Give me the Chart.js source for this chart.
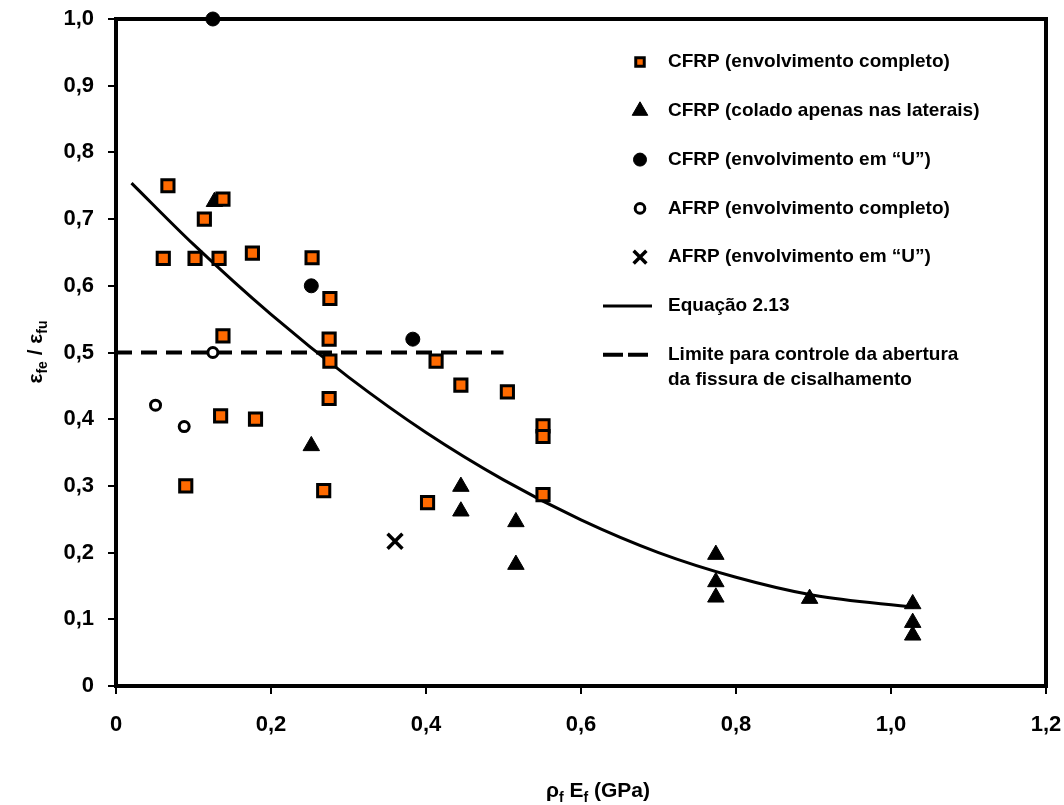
<!DOCTYPE html>
<html>
<head>
<meta charset="utf-8">
<script src="https://cdn.jsdelivr.net/npm/chart.js"></script>
<style>
  html, body { margin: 0; padding: 0; background: #fff; }
  #chart { display: block; }
</style>
</head>
<body>
<canvas id="chart" width="1064" height="805"></canvas>
<script>
const FONT = 'Arial, "Liberation Sans", sans-serif';

// CFRP (envolvimento completo)
const cfrpFullX = [0.067, 0.138, 0.114, 0.061, 0.102, 0.133, 0.176, 0.253, 0.276, 0.138, 0.275, 0.276,
  0.413, 0.135, 0.180, 0.275, 0.090, 0.268, 0.402, 0.445, 0.505, 0.551, 0.551, 0.551];
const cfrpFullY = [0.750, 0.730, 0.700, 0.641, 0.641, 0.641, 0.649, 0.642, 0.581, 0.525, 0.520, 0.487,
  0.487, 0.405, 0.400, 0.431, 0.300, 0.293, 0.275, 0.451, 0.441, 0.390, 0.374, 0.287];

// CFRP (colado apenas nas laterais)
const cfrpSideX = [0.127, 0.252, 0.445, 0.445, 0.516, 0.516, 0.774, 0.774, 0.774, 0.895, 1.028, 1.028, 1.028];
const cfrpSideY = [0.726, 0.360, 0.299, 0.262, 0.246, 0.182, 0.197, 0.156, 0.133, 0.131, 0.123, 0.095, 0.076];

// CFRP (envolvimento em "U")
const cfrpUX = [0.125, 0.252, 0.383];
const cfrpUY = [1.000, 0.600, 0.520];

// AFRP (envolvimento completo)
const afrpFullX = [0.125, 0.051, 0.088];
const afrpFullY = [0.500, 0.421, 0.389];

// AFRP (envolvimento em "U")
const afrpUX = [0.360];
const afrpUY = [0.217];

// Equação 2.13
const eqX = [0.02, 0.1, 0.2, 0.3, 0.4, 0.5, 0.6, 0.7, 0.8, 0.9, 1.03];
const eqY = [0.754, 0.662, 0.557, 0.463, 0.380, 0.309, 0.249, 0.200, 0.163, 0.136, 0.118];

// limite para controle da abertura da fissura
const limitX = [0, 0.5];
const limitY = [0.5, 0.5];

const xTickValues = [0, 0.2, 0.4, 0.6, 0.8, 1.0, 1.2];
const xTickLabels = ['0', '0,2', '0,4', '0,6', '0,8', '1,0', '1,2'];
const yTickValues = [0, 0.1, 0.2, 0.3, 0.4, 0.5, 0.6, 0.7, 0.8, 0.9, 1.0];
const yTickLabels = ['0', '0,1', '0,2', '0,3', '0,4', '0,5', '0,6', '0,7', '0,8', '0,9', '1,0'];

const toPoints = (xs, ys) => xs.map((x, i) => ({ x, y: ys[i] }));

const markerBase = { showLine: false, clip: false, borderColor: '#000' };

const datasets = [
  {
    ...markerBase,
    label: 'CFRP (envolvimento completo)',
    data: toPoints(cfrpFullX, cfrpFullY),
    pointStyle: 'rect',
    pointRadius: 8.6,
    pointBorderWidth: 3,
    backgroundColor: '#ff6a00',
    legendRadius: 6,
  },
  {
    ...markerBase,
    label: 'CFRP (colado apenas nas laterais)',
    data: toPoints(cfrpSideX, cfrpSideY),
    pointStyle: 'triangle',
    pointRadius: 9.5,
    pointBorderWidth: 1,
    backgroundColor: '#000',
    legendRadius: 9,
  },
  {
    ...markerBase,
    label: 'CFRP (envolvimento em “U”)',
    data: toPoints(cfrpUX, cfrpUY),
    pointStyle: 'circle',
    pointRadius: 7,
    pointBorderWidth: 1,
    backgroundColor: '#000',
    legendRadius: 6.5,
  },
  {
    ...markerBase,
    label: 'AFRP (envolvimento completo)',
    data: toPoints(afrpFullX, afrpFullY),
    pointStyle: 'circle',
    pointRadius: 5,
    pointBorderWidth: 3,
    backgroundColor: '#fff',
    legendRadius: 4.8,
  },
  {
    ...markerBase,
    label: 'AFRP (envolvimento em “U”)',
    data: toPoints(afrpUX, afrpUY),
    pointStyle: 'crossRot',
    pointRadius: 10.5,
    pointBorderWidth: 3.5,
    backgroundColor: '#000',
    legendRadius: 9,
  },
  {
    label: 'Equação 2.13',
    data: toPoints(eqX, eqY),
    showLine: true,
    pointRadius: 0,
    borderColor: '#000',
    borderWidth: 3,
    cubicInterpolationMode: 'monotone',
    legendLine: [],
  },
  {
    label: 'Limite para controle da abertura\nda fissura de cisalhamento',
    data: toPoints(limitX, limitY),
    showLine: true,
    pointRadius: 0,
    borderColor: '#000',
    borderWidth: 4,
    borderDash: [16, 9],
    legendLine: [20, 5],
  },
];

// outer frame of the plot area
const framePlugin = {
  id: 'frame',
  beforeDatasetsDraw(chart) {
    const { ctx, chartArea: a } = chart;
    ctx.save();
    ctx.strokeStyle = '#000';
    ctx.lineWidth = 4;
    ctx.strokeRect(a.left, a.top, a.right - a.left, a.bottom - a.top);
    ctx.restore();
  },
};

// legend inside the plot, top right
const legendPlugin = {
  id: 'insideLegend',
  afterDraw(chart) {
    const { ctx } = chart;
    const markX = 640;
    const textX = 668;
    const startY = 62;
    const step = 48.8;
    ctx.save();
    ctx.font = `bold 19px ${FONT}`;
    ctx.textBaseline = 'middle';
    ctx.fillStyle = '#000';
    chart.data.datasets.forEach((ds, i) => {
      const y = startY + i * step;
      if (ds.legendLine) {
        ctx.save();
        ctx.strokeStyle = '#000';
        ctx.lineWidth = ds.borderWidth;
        ctx.setLineDash(ds.legendLine);
        ctx.beginPath();
        ctx.moveTo(603, y);
        ctx.lineTo(652, y);
        ctx.stroke();
        ctx.restore();
      } else {
        ctx.save();
        ctx.fillStyle = ds.backgroundColor;
        ctx.strokeStyle = ds.borderColor;
        ctx.lineWidth = ds.pointBorderWidth;
        Chart.helpers.drawPoint(ctx, {
          pointStyle: ds.pointStyle,
          radius: ds.legendRadius,
          rotation: 0,
          borderWidth: ds.pointBorderWidth,
        }, markX, y);
        ctx.restore();
      }
      ds.label.split('\n').forEach((line, j) => {
        ctx.fillText(line, textX, y + j * 25);
      });
    });
    ctx.restore();
  },
};

// draws a run of text pieces, some as subscripts, centred on (cx, cy)
function drawRich(ctx, parts, cx, cy) {
  const widths = parts.map((p) => {
    ctx.font = p.font;
    return ctx.measureText(p.t).width;
  });
  const total = widths.reduce((s, w) => s + w, 0);
  let x = cx - total / 2;
  parts.forEach((p, i) => {
    ctx.font = p.font;
    ctx.fillText(p.t, x, cy + (p.dy || 0));
    x += widths[i];
  });
}

const titlesPlugin = {
  id: 'axisTitles',
  afterDraw(chart) {
    const { ctx } = chart;
    const main = `bold 21px ${FONT}`;
    const sub = `bold 14px ${FONT}`;
    ctx.save();
    ctx.fillStyle = '#000';
    ctx.textAlign = 'left';
    ctx.textBaseline = 'alphabetic';
    drawRich(ctx, [
      { t: 'ρ', font: main },
      { t: 'f', font: sub, dy: 5 },
      { t: ' E', font: main },
      { t: 'f', font: sub, dy: 5 },
      { t: ' (GPa)', font: main },
    ], 598, 797);

    ctx.translate(42, 352);
    ctx.rotate(-Math.PI / 2);
    drawRich(ctx, [
      { t: 'ε', font: main },
      { t: 'fe', font: sub, dy: 5 },
      { t: ' / ', font: main },
      { t: 'ε', font: main },
      { t: 'fu', font: sub, dy: 5 },
    ], 0, 0);
    ctx.restore();
  },
};

const tickFont = { family: FONT, size: 22, weight: 'bold' };

new Chart(document.getElementById('chart'), {
  type: 'scatter',
  data: { datasets },
  options: {
    responsive: false,
    animation: false,
    events: [],
    layout: { padding: 0 },
    plugins: {
      legend: { display: false },
      tooltip: { enabled: false },
    },
    scales: {
      x: {
        type: 'linear',
        min: 0,
        max: 1.2,
        afterBuildTicks: (scale) => { scale.ticks = xTickValues.map((value) => ({ value })); },
        afterFit: (scale) => {
          scale.height = 119;
          scale.paddingLeft = 0;
          scale.paddingRight = 18;
        },
        border: { display: false },
        grid: { drawOnChartArea: false, drawTicks: true, tickLength: 8, color: '#000', lineWidth: 2 },
        ticks: {
          color: '#000',
          font: tickFont,
          padding: 18,
          maxRotation: 0,
          callback: (v, i) => xTickLabels[i],
        },
      },
      y: {
        type: 'linear',
        min: 0,
        max: 1,
        afterBuildTicks: (scale) => { scale.ticks = yTickValues.map((value) => ({ value })); },
        afterFit: (scale) => {
          scale.width = 116;
          scale.paddingTop = 19;
          scale.paddingBottom = 0;
        },
        border: { display: false },
        grid: { drawOnChartArea: false, drawTicks: true, tickLength: 8, color: '#000', lineWidth: 2 },
        ticks: {
          color: '#000',
          font: tickFont,
          padding: 14,
          callback: (v, i) => yTickLabels[i],
        },
      },
    },
  },
  plugins: [framePlugin, legendPlugin, titlesPlugin],
});
</script>
</body>
</html>
